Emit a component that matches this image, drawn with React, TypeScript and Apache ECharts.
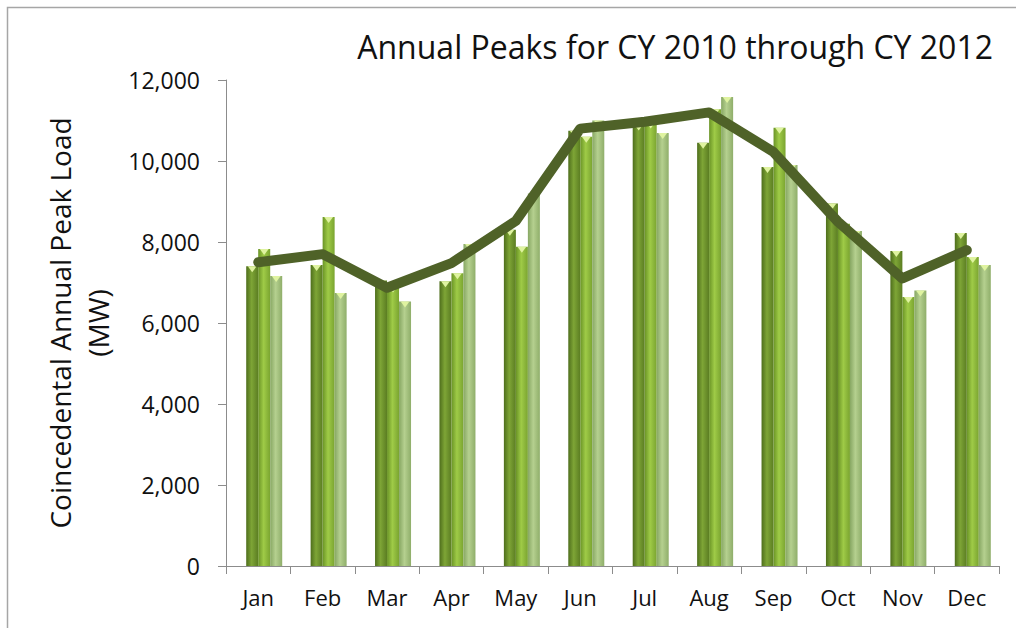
import React, { useEffect, useRef } from "react";
import * as echarts from "echarts";

const months = ["Jan", "Feb", "Mar", "Apr", "May", "Jun", "Jul", "Aug", "Sep", "Oct", "Nov", "Dec"];
const peaks2010 = [7400, 7430, 7050, 7030, 8300, 10750, 10900, 10450, 9850, 8950, 7780, 8220];
const peaks2011 = [7830, 8620, 6900, 7230, 7880, 10600, 10950, 11280, 10820, 8450, 6640, 7630];
const peaks2012 = [7160, 6740, 6530, 7950, 9200, 11000, 10690, 11580, 9900, 8270, 6800, 7430];
const peakTrend = [7500, 7700, 6870, 7480, 8520, 10800, 10970, 11200, 10220, 8500, 7100, 7800];
const yTicks = [0, 2000, 4000, 6000, 8000, 10000, 12000];

const FONT = '"Open Sans", "Liberation Sans", sans-serif';

function grad(edge: string, mid: string, edge2: string) {
  return new echarts.graphic.LinearGradient(0, 0, 1, 0, [
    { offset: 0, color: edge },
    { offset: 0.45, color: mid },
    { offset: 1, color: edge2 },
  ]);
}

export default function App() {
  const ref = useRef<HTMLDivElement>(null);
  useEffect(() => {
    if (!ref.current) return;
    const chart = echarts.init(ref.current, undefined, { renderer: "svg" });
    const pad = months.map(() => "-");
    const barCommon = {
      type: "bar",
      barWidth: 12,
      barGap: "0%",
      z: 2,
    };
    const topCommon = {
      type: "pictorialBar",
      barWidth: 12,
      barGap: "0%",
      symbol: "triangle",
      symbolRotate: 180,
      symbolPosition: "end",
      symbolSize: [9, 6],
      symbolOffset: [0, 0],
      z: 3,
      itemStyle: { color: "#dff3a0" },
      silent: true,
    };
    chart.setOption({
      animation: false,
      title: {
        text: "Annual Peaks for CY 2010 through CY 2012",
        right: 18,
        top: 25,
        textStyle: { fontFamily: FONT, fontSize: 32, fontWeight: "normal", color: "#111" },
      },
      graphic: [
        {
          type: "rect",
          shape: { x: 7.5, y: 7.5, width: 1030, height: 650 },
          style: { fill: "none", stroke: "#a6a6a6", lineWidth: 1.5 },
          silent: true,
        },
      ],
      grid: { left: 226, right: 17, top: 80, bottom: 62, containLabel: false },
      xAxis: {
        type: "category",
        data: months,
        axisLine: { lineStyle: { color: "#8c8c8c", width: 1 } },
        axisTick: { show: true, length: 8, alignWithLabel: false, lineStyle: { color: "#8c8c8c" } },
        axisLabel: { fontFamily: FONT, fontSize: 22, color: "#111", margin: 20 },
      },
      yAxis: {
        type: "value",
        min: yTicks[0],
        max: yTicks[yTicks.length - 1],
        interval: 2000,
        name: "Coincedental Annual Peak Load\n(MW)",
        nameLocation: "middle",
        nameRotate: 90,
        nameGap: 108,
        nameTextStyle: { fontFamily: FONT, fontSize: 28, color: "#111", lineHeight: 38 },
        axisLine: { show: true, lineStyle: { color: "#8c8c8c", width: 1 } },
        axisTick: { show: true, length: 8, lineStyle: { color: "#8c8c8c" } },
        splitLine: { show: false },
        axisLabel: {
          fontFamily: FONT,
          fontSize: 23,
          color: "#111",
          margin: 26,
          formatter: (v: number) => v.toLocaleString("en-US"),
        },
      },
      series: [
        { ...barCommon, name: "pad", data: pad },
        {
          ...barCommon,
          name: "2010",
          data: peaks2010,
          itemStyle: { color: grad("#4e6e1c", "#7ea536", "#5b7d22") },
        },
        {
          ...barCommon,
          name: "2011",
          data: peaks2011,
          itemStyle: { color: grad("#6a9426", "#9fcb47", "#7aa430") },
        },
        {
          ...barCommon,
          name: "2012",
          data: peaks2012,
          itemStyle: { color: grad("#87a763", "#b5d08f", "#8fae6a") },
        },
        { ...topCommon, name: "padTop", data: pad },
        { ...topCommon, name: "top2010", data: peaks2010 },
        { ...topCommon, name: "top2011", data: peaks2011 },
        { ...topCommon, name: "top2012", data: peaks2012 },
        {
          type: "line",
          name: "Peak",
          data: peakTrend,
          z: 5,
          symbol: "none",
          lineStyle: { color: "#4f6228", width: 10, cap: "round", join: "round" },
          itemStyle: { color: "#4f6228" },
        },
      ],
    });
    return () => chart.dispose();
  }, []);
  return (
    <div
      ref={ref}
      style={{ position: "fixed", left: 0, top: 0, width: 1016, height: 628, background: "#fff" }}
    />
  );
}
